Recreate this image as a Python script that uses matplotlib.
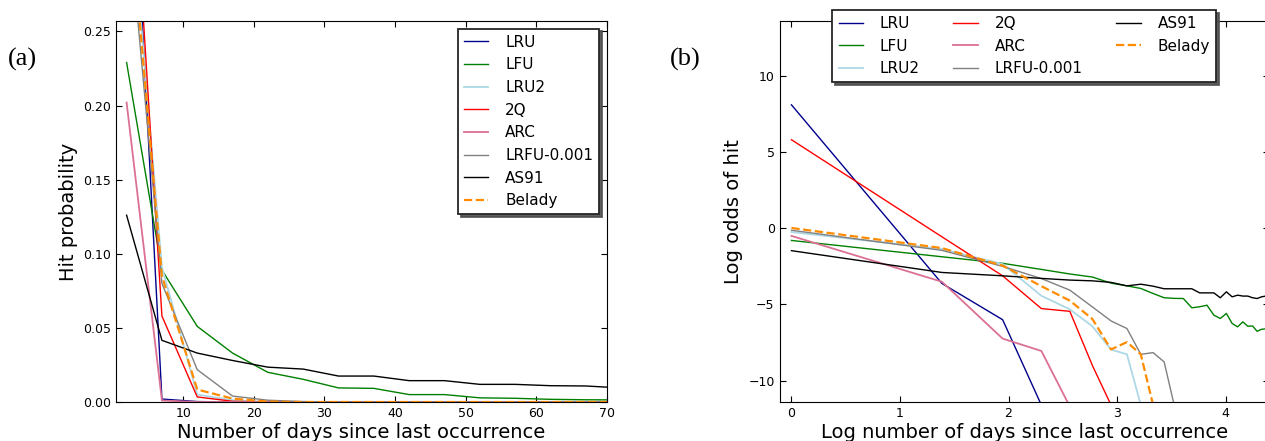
import numpy as np
import matplotlib
matplotlib.use("Agg")
import matplotlib.pyplot as plt

names = ["LRU", "LFU", "LRU2", "2Q", "ARC", "LRFU-0.001", "AS91", "Belady"]
colors = ["darkblue", "green", "lightblue", "red", "palevioletred", "gray", "black", "darkorange"]

# (a) hit probability, bins of 5 days
days_a = [2, 7, 12, 17, 22, 27, 32, 37, 42, 47, 52, 57, 62, 67, 72]
lru_a = [0.46, 0.002, 0.0003, 0, 0, 0, 0, 0, 0, 0, 0, 0, 0, 0, 0]
lfu_a = [0.229, 0.089, 0.051, 0.033, 0.020, 0.0153, 0.0095, 0.0092, 0.005, 0.005,
         0.0028, 0.0025, 0.0018, 0.0015, 0.0014]
lru2_a = [0.37, 0.091, 0.005, 0.0012, 0.0002, 0, 0, 0, 0, 0, 0, 0, 0, 0, 0]
q2_a = [0.44, 0.058, 0.0034, 0.0005, 0, 0, 0, 0, 0, 0, 0, 0, 0, 0, 0]
arc_a = [0.202, 0.001, 0, 0, 0, 0, 0, 0, 0, 0, 0, 0, 0, 0, 0]
lrfu_a = [0.34, 0.080, 0.0218, 0.004, 0.0012, 0.0003, 0, 0, 0, 0, 0, 0, 0, 0, 0]
as91_a = [0.126, 0.0416, 0.033, 0.028, 0.0235, 0.0222, 0.0175, 0.0175, 0.0144, 0.0144,
          0.0119, 0.0119, 0.011, 0.0108, 0.0095]
belady_a = [0.358, 0.085, 0.0084, 0.0023, 0.0003, 0, 0, 0, 0, 0, 0, 0, 0, 0, 0]

# (b) log odds of hit vs log days (bins of 3 days)
days_b = [1, 4, 7, 10, 13, 16, 19, 22, 25, 28, 31, 34, 37, 40, 43, 46, 49, 52, 55,
          58, 61, 64, 67, 70, 73, 76, 79]
lru_b = [8.1, -3.62, -6.0, -11.6]
lfu_b = [-0.8, -1.87, -2.3, -2.7, -3.0, -3.2, -3.6, -3.78, -3.95, -4.28, -4.56, -4.6,
         -4.61, -5.22, -5.15, -5.05, -5.7, -5.92, -5.59, -6.25, -6.47, -6.14, -6.43,
         -6.41, -6.76, -6.63, -6.6]
lru2_b = [-0.25, -1.36, -2.35, -4.43, -5.32, -6.43, -7.96, -8.27, -11.6]
q2_b = [5.81, -0.56, -3.12, -5.27, -5.45, -9.0, -11.6]
arc_b = [-0.5, -3.51, -7.24, -8.05, -11.7]
lrfu_b = [-0.13, -1.45, -2.5, -3.3, -4.06, -5.16, -6.08, -6.58, -8.27, -8.16, -8.77, -11.6]
as91_b = [-1.47, -2.9, -3.12, -3.29, -3.4, -3.45, -3.55, -3.78, -3.67, -3.8, -3.97,
          -3.97, -3.97, -3.97, -4.24, -4.24, -4.24, -4.56, -4.17, -4.5, -4.39, -4.45,
          -4.45, -4.56, -4.61, -4.5, -4.45]
belady_b = [0.02, -1.3, -2.45, -3.8, -4.75, -5.95, -7.95, -7.47, -8.27, -11.6]

series_a = [lru_a, lfu_a, lru2_a, q2_a, arc_a, lrfu_a, as91_a, belady_a]
series_b = [lru_b, lfu_b, lru2_b, q2_b, arc_b, lrfu_b, as91_b, belady_b]

W, H = 1265, 441
fig = plt.figure(figsize=(W / 100, H / 100), dpi=100)
ax1 = fig.add_axes([116 / W, 39 / H, (607 - 116) / W, 381 / H])
ax2 = fig.add_axes([779.5 / W, 39 / H, (1269 - 779.5) / W, 381 / H])

log_days = np.log(days_b)
for name, c, ya, yb in zip(names, colors, series_a, series_b):
    ls = "--" if name == "Belady" else "-"
    lw = 1.6 if name == "Belady" else (1.3 if name in ("LRU2", "ARC") else 1.0)
    ax1.plot(days_a, ya, color=c, ls=ls, lw=lw, label=name)
    ax2.plot(log_days[:len(yb)], yb, color=c, ls=ls, lw=lw, label=name)

ax1.set_xlim(0.5, 70)
ax1.set_ylim(0, 0.257)
ax1.set_xticks([10, 20, 30, 40, 50, 60, 70])
ax1.set_yticks([0, 0.05, 0.1, 0.15, 0.2, 0.25])
ax1.yaxis.set_major_formatter(matplotlib.ticker.FormatStrFormatter("%.2f"))
ax1.set_xlabel("Number of days since last occurrence", fontsize=14, labelpad=2)
ax1.set_ylabel("Hit probability", fontsize=14)

ax2.set_xlim(-0.11, 4.4)
ax2.set_ylim(-11.4, 13.6)
ax2.set_xticks([0, 1, 2, 3, 4])
ax2.set_yticks([-10, -5, 0, 5, 10])
ax2.set_xlabel("Log number of days since last occurrence", fontsize=14, labelpad=2)
ax2.set_ylabel("Log odds of hit", fontsize=14)

for ax in (ax1, ax2):
    ax.tick_params(direction="in", top=True, right=True, length=4, labelsize=9)

leg_kw = dict(fontsize=11, shadow={"color": "0.3", "alpha": 0.9}, fancybox=False,
              edgecolor="0.15", framealpha=1, handlelength=1.6, handletextpad=1.1,
              labelspacing=0.5)
leg1 = ax1.legend(loc="upper right", **leg_kw)
leg2 = ax2.legend(loc="upper center", bbox_to_anchor=(0.5, 1.029), borderaxespad=0, ncol=3,
                  columnspacing=2.2, **leg_kw)
for leg in (leg1, leg2):
    leg.get_frame().set_linewidth(1.3)

fig.text(8 / W, 1 - 59 / H, "(a)", family="Liberation Serif", fontsize=19, va="center")
fig.text(670 / W, 1 - 59 / H, "(b)", family="Liberation Serif", fontsize=19, va="center")

fig.savefig("out.png", dpi=100)
